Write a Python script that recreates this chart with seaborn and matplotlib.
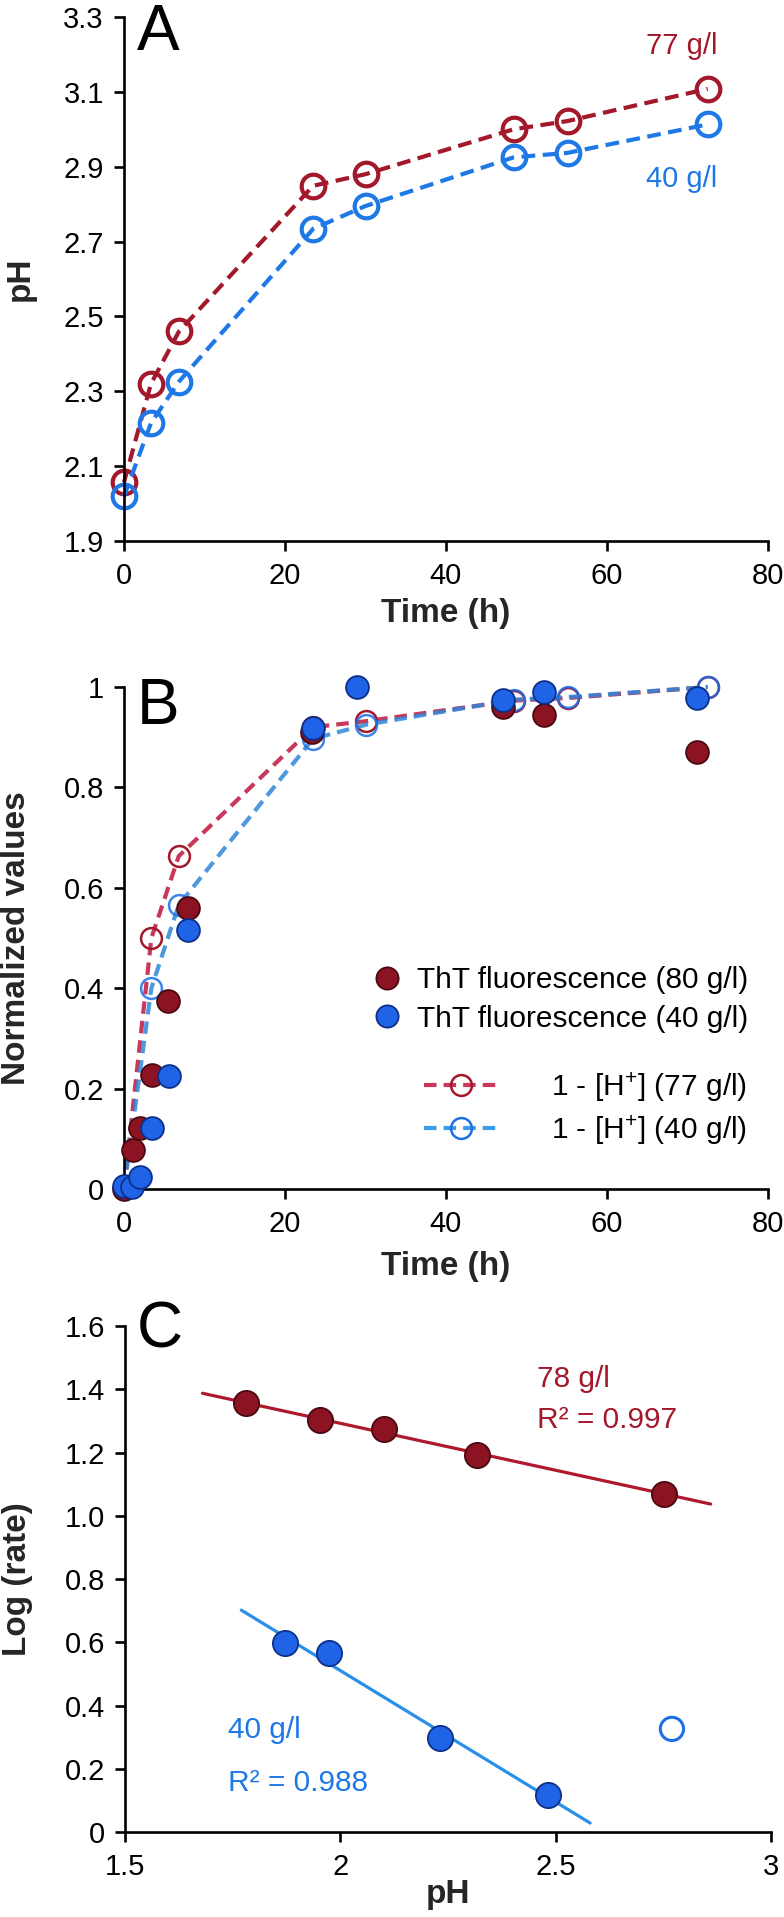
import numpy as np
import matplotlib
matplotlib.use("Agg")
import matplotlib.pyplot as plt
import seaborn as sns
from matplotlib.lines import Line2D

# ---------------- data ----------------
# Panel A: pH vs time
timeA = [0, 3.35, 6.83, 23.5, 30.0, 48.4, 55.1, 72.5]
pH_77 = [2.057, 2.32, 2.46, 2.849, 2.88, 3.0, 3.022, 3.108]
pH_40 = [2.019, 2.215, 2.326, 2.734, 2.795, 2.925, 2.937, 3.013]

# Panel B: normalized values vs time
tht80_time = [0, 1.1, 2.0, 3.45, 5.5, 7.9, 23.3, 47.1, 52.2, 71.2]
tht80_val = [0.0, 0.077, 0.122, 0.228, 0.374, 0.559, 0.911, 0.961, 0.945, 0.870]
tht40_time = [0, 1.0, 2.0, 3.5, 5.6, 7.9, 23.5, 29.0, 47.1, 52.2, 71.2]
tht40_val = [0.005, 0.003, 0.024, 0.122, 0.225, 0.516, 0.918, 1.0, 0.974, 0.99, 0.978]
h_time = [0, 3.4, 6.8, 23.5, 30.1, 48.5, 55.1, 72.5]
h77_val = [0.0, 0.50, 0.663, 0.92, 0.932, 0.973, 0.978, 1.0]
h40_val = [0.0, 0.40, 0.566, 0.897, 0.925, 0.975, 0.980, 1.0]

# Panel C: log(rate) vs pH
pH_78c = [1.781, 1.952, 2.101, 2.318, 2.752]
lograte_78 = [1.356, 1.302, 1.273, 1.193, 1.069]
pH_40c = [1.872, 1.973, 2.231, 2.482]
lograte_40 = [0.598, 0.566, 0.297, 0.117]
outlier_pH = [2.770]
outlier_lograte = [0.326]
fit_range_78 = [1.68, 2.86]
fit_range_40 = [1.77, 2.58]

xticksAB = [0, 20, 40, 60, 80]
yticksA = [1.9, 2.1, 2.3, 2.5, 2.7, 2.9, 3.1, 3.3]
yticksB = [0, 0.2, 0.4, 0.6, 0.8, 1.0]
yticklabelsB = ["0", "0.2", "0.4", "0.6", "0.8", "1"]
xticksC = [1.5, 2, 2.5, 3]
xticklabelsC = ["1.5", "2", "2.5", "3"]
yticksC = [0, 0.2, 0.4, 0.6, 0.8, 1.0, 1.2, 1.4, 1.6]
yticklabelsC = ["0", "0.2", "0.4", "0.6", "0.8", "1.0", "1.2", "1.4", "1.6"]

# ---------------- style ----------------
sns.set_theme(style="ticks")
plt.rcParams["font.family"] = ["Liberation Sans", "DejaVu Sans"]
plt.rcParams.update({
    "mathtext.fontset": "custom",
    "mathtext.rm": "Liberation Sans",
    "mathtext.it": "Liberation Sans",
    "axes.linewidth": 1.9,
    "axes.edgecolor": "black",
    "xtick.major.width": 1.9,
    "ytick.major.width": 1.9,
    "xtick.major.size": 7,
    "ytick.major.size": 7.5,
    "xtick.major.pad": 8,
    "ytick.major.pad": 7,
    "xtick.labelsize": 21,
    "ytick.labelsize": 21,
    "xtick.color": "black",
    "ytick.color": "black",
    "text.color": "black",
})

RED_A = "#A3182B"
BLUE_A = "#1E78E6"
RED_FILL = "#8C1422"
RED_EDGE = "#4A0810"
BLUE_FILL = "#1F63E6"
BLUE_EDGE = "#0D2F8A"
RED_DASH = "#C8385A"
BLUE_DASH = "#3A9EE6"

W, H = 784, 1917
fig = plt.figure(figsize=(W / 100, H / 100), dpi=100)


def axes_px(left, top, right, bottom):
    return fig.add_axes([left / W, 1 - bottom / H, (right - left) / W, (bottom - top) / H])


def style_axes(ax):
    sns.despine(ax=ax)
    ax.tick_params(direction="out")


axA = axes_px(124, 17, 768, 541)
axB = axes_px(124, 687, 768, 1189)
axC = axes_px(125, 1326, 771, 1832)

# ---------------- Panel A ----------------
dashA = (0, (3.3, 1.8))
for y, c in [(pH_77, RED_A), (pH_40, BLUE_A)]:
    sns.lineplot(x=timeA, y=y, ax=axA, color=c, lw=3, linestyle=dashA,
                 marker="o", markersize=17, markerfacecolor="none",
                 markeredgecolor=c, markeredgewidth=3, estimator=None,
                 clip_on=False)
axA.set_xlim(0, 80)
axA.set_ylim(1.9, 3.3)
axA.set_xticks(xticksAB)
axA.set_yticks(yticksA)
axA.set_yticklabels([f"{v:.1f}" for v in yticksA])
style_axes(axA)
axA.set_xlabel("Time (h)", fontsize=24, fontweight="bold", va="center")
axA.set_ylabel("pH", fontsize=24, fontweight="bold", va="center")
axA.xaxis.set_label_coords(0.5, -0.139)
axA.yaxis.set_label_coords(-0.1615, 0.5)
axA.text(0.053, 0.969, "A", transform=axA.transAxes, fontsize=46,
         ha="center", va="center")
axA.text(73.7, 3.222, "77 g/l", color=RED_A, fontsize=21, ha="right", va="center")
axA.text(73.7, 2.868, "40 g/l", color=BLUE_A, fontsize=21, ha="right", va="center")

# ---------------- Panel B ----------------
dashB = (0, (3.0, 1.7))
sns.lineplot(x=h_time, y=h77_val, ax=axB, color=RED_DASH, lw=3.0, linestyle=dashB,
             marker="o", markersize=15, markerfacecolor="none",
             markeredgecolor=RED_A, markeredgewidth=1.8, estimator=None,
             clip_on=False, zorder=2)
sns.lineplot(x=h_time, y=h40_val, ax=axB, color="#2F86DA", lw=3.0, linestyle=dashB,
             marker="o", markersize=15, markerfacecolor="none",
             markeredgecolor="#1E6FE8", markeredgewidth=1.8, estimator=None,
             clip_on=False, zorder=2, alpha=0.85)
sns.scatterplot(x=tht80_time, y=tht80_val, ax=axB, s=270, color=RED_FILL,
                edgecolor=RED_EDGE, linewidth=1.3, zorder=3, clip_on=False)
sns.scatterplot(x=tht40_time, y=tht40_val, ax=axB, s=270, color=BLUE_FILL,
                edgecolor=BLUE_EDGE, linewidth=1.3, zorder=4, clip_on=False)
axB.set_xlim(0, 80)
axB.set_ylim(0, 1)
axB.set_xticks(xticksAB)
axB.set_yticks(yticksB)
axB.set_yticklabels(yticklabelsB)
style_axes(axB)
axB.set_xlabel("Time (h)", fontsize=24, fontweight="bold", va="center")
axB.set_ylabel("Normalized values", fontsize=24, fontweight="bold", va="center")
axB.xaxis.set_label_coords(0.5, -0.155)
axB.yaxis.set_label_coords(-0.1677, 0.5)
axB.text(0.053, 0.960, "B", transform=axB.transAxes, fontsize=46,
         ha="center", va="center")

h1 = Line2D([], [], ls="none", marker="o", markersize=16, markerfacecolor=RED_FILL,
            markeredgecolor=RED_EDGE, markeredgewidth=1.3)
h2 = Line2D([], [], ls="none", marker="o", markersize=16, markerfacecolor=BLUE_FILL,
            markeredgecolor=BLUE_EDGE, markeredgewidth=1.3)
leg1 = axB.legend([h1, h2], ["ThT fluorescence (80 g/l)", "ThT fluorescence (40 g/l)"],
                  loc="upper left", bbox_to_anchor=(0.385, 0.444), frameon=False,
                  fontsize=21.5, handlelength=1.0, handletextpad=0.5,
                  labelspacing=0.35, borderpad=0, borderaxespad=0)
axB.add_artist(leg1)
h3 = Line2D([], [], color=RED_DASH, lw=3.0, ls=dashB, marker="o", markersize=15,
            markerfacecolor="none", markeredgecolor=RED_A, markeredgewidth=1.8)
h4 = Line2D([], [], color=BLUE_DASH, lw=3.0, ls=dashB, marker="o", markersize=15,
            markerfacecolor="none", markeredgecolor="#1E6FE8", markeredgewidth=1.8)
axB.legend([h3, h4], [r"1 - [H$^{+}$] (77 g/l)", r"1 - [H$^{+}$] (40 g/l)"],
           loc="upper left", bbox_to_anchor=(0.466, 0.237), frameon=False,
           fontsize=21.5, handlelength=2.45, handletextpad=1.8,
           labelspacing=0.3, borderpad=0, borderaxespad=0)

# ---------------- Panel C ----------------
for xs_data, ys_data, rng, c in [(pH_78c, lograte_78, fit_range_78, "#B0182E"),
                                 (pH_40c, lograte_40, fit_range_40, "#2A8FE8")]:
    coef = np.polyfit(xs_data, ys_data, 1)
    xr = np.array(rng)
    sns.lineplot(x=xr, y=np.polyval(coef, xr), ax=axC, color=c, lw=2.3, zorder=2)
sns.scatterplot(x=pH_78c, y=lograte_78, ax=axC, s=330, color=RED_FILL,
                edgecolor=RED_EDGE, linewidth=1.3, zorder=3)
sns.scatterplot(x=pH_40c, y=lograte_40, ax=axC, s=330, color=BLUE_FILL,
                edgecolor=BLUE_EDGE, linewidth=1.3, zorder=3)
sns.scatterplot(x=outlier_pH, y=outlier_lograte, ax=axC, s=280, facecolor="none",
                edgecolor="#1E6FE8", linewidth=2.2, zorder=3)
axC.set_xlim(1.5, 3)
axC.set_ylim(0, 1.6)
axC.set_xticks(xticksC)
axC.set_xticklabels(xticklabelsC)
axC.set_yticks(yticksC)
axC.set_yticklabels(yticklabelsC)
style_axes(axC)
axC.set_xlabel("pH", fontsize=24, fontweight="bold", va="center")
axC.set_ylabel("Log (rate)", fontsize=24, fontweight="bold", va="center")
axC.xaxis.set_label_coords(0.5, -0.1245)
axC.yaxis.set_label_coords(-0.1657, 0.5)
axC.text(0.054, 0.992, "C", transform=axC.transAxes, fontsize=46,
         ha="center", va="center")
axC.text(2.457, 1.432, "78 g/l", color=RED_A, fontsize=21.5, ha="left", va="center")
axC.text(2.457, 1.303, "R² = 0.997", color=RED_A, fontsize=21.5, ha="left", va="center")
axC.text(1.740, 0.322, "40 g/l", color=BLUE_A, fontsize=21.5, ha="left", va="center")
axC.text(1.740, 0.155, "R² = 0.988", color=BLUE_A, fontsize=21.5, ha="left", va="center")

fig.savefig("out.png", dpi=100)
